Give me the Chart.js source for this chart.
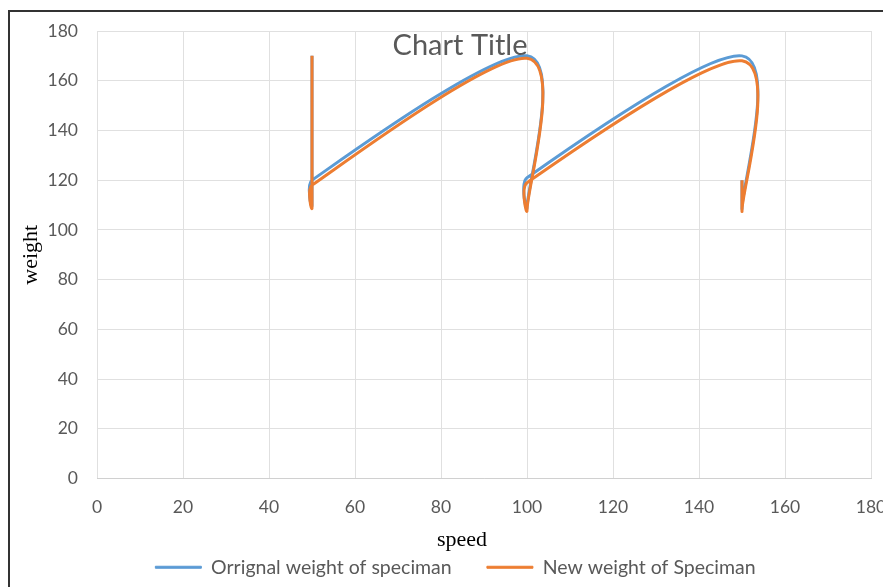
<!DOCTYPE html>
<html>
<head>
<meta charset="utf-8">
<script src="https://cdn.jsdelivr.net/npm/chart.js@4.4.1/dist/chart.umd.min.js"></script>
<style>
  html, body { margin: 0; padding: 0; background: #ffffff; }
  #wrap { position: relative; width: 883px; height: 587px; overflow: hidden; }
  #frame { position: absolute; left: 8px; top: 10px; width: 900px; height: 600px;
           border-left: 2px solid #333; border-top: 2px solid #333; box-sizing: border-box; }
  canvas { position: absolute; left: 0; top: 0; }
</style>
</head>
<body>
<div id="wrap">
  <div id="frame"></div>
  <canvas id="myChart" width="883" height="587"></canvas>
</div>
<script>
// speed (x) and weight (y)
const speedOriginal = [50, 50, 50, 100, 100, 100, 150, 150, 150];
const weightOriginal = [170, 110, 120, 170, 109, 121, 170, 109, 120];
const speedNew = [50, 50, 50, 100, 100, 100, 150, 150, 150];
const weightNew = [170, 109, 118, 169, 108, 119, 168, 108, 120];

const seriesNames = ['Orrignal weight of speciman', 'New weight of Speciman'];
const seriesColors = ['#5b9bd5', '#ed7d31'];

function toPoints(xs, ys) {
    return xs.map((x, i) => ({ x: x, y: ys[i] }));
}

// Excel-like smoothing: tangent = (next - prev) / 6, kept short on short segments
const excelSmooth = {
    id: 'excelSmooth',
    beforeDatasetsDraw(chart) {
        chart.data.datasets.forEach((ds, di) => {
            const meta = chart.getDatasetMeta(di);
            if (!meta.dataset) return;
            meta.dataset.updateControlPoints(chart.chartArea);
            const pts = meta.data;
            for (let i = 0; i < pts.length; i++) {
                const p = pts[i];
                const prev = pts[i - 1] || p;
                const next = pts[i + 1] || p;
                const tx = (next.x - prev.x) / 6;
                const ty = (next.y - prev.y) / 6;
                const tl = Math.hypot(tx, ty) || 1;
                const dPrev = Math.hypot(p.x - prev.x, p.y - prev.y);
                const dNext = Math.hypot(next.x - p.x, next.y - p.y);
                const l1 = Math.min(tl, 0.3 * dPrev) / tl;
                const l2 = Math.min(tl, 0.3 * dNext) / tl;
                p.cp1x = p.x - tx * l1;
                p.cp1y = p.y - ty * l1;
                p.cp2x = p.x + tx * l2;
                p.cp2y = p.y + ty * l2;
            }
        });
    }
};

// title sits inside the plot area like in the Excel picture
const titlePlugin = {
    id: 'floatTitle',
    afterDraw(chart) {
        const ctx = chart.ctx;
        ctx.save();
        ctx.font = '29px Lato';
        ctx.fillStyle = '#595959';
        ctx.textAlign = 'center';
        ctx.textBaseline = 'middle';
        ctx.fillText('Chart Title', 460, 46);
        ctx.restore();
    }
};

const ctx = document.getElementById('myChart').getContext('2d');
new Chart(ctx, {
    type: 'scatter',
    data: {
        datasets: [{
            label: seriesNames[0],
            data: toPoints(speedOriginal, weightOriginal),
            showLine: true,
            borderColor: seriesColors[0],
            backgroundColor: seriesColors[0],
            borderWidth: 3,
            tension: 0.4,
            pointRadius: 0,
            order: 1
        }, {
            label: seriesNames[1],
            data: toPoints(speedNew, weightNew),
            showLine: true,
            borderColor: seriesColors[1],
            backgroundColor: seriesColors[1],
            borderWidth: 3,
            tension: 0.4,
            pointRadius: 0,
            order: 0
        }]
    },
    options: {
        responsive: false,
        animation: false,
        layout: {
            padding: { top: 31, left: 40, right: 12, bottom: 0 }
        },
        scales: {
            x: {
                type: 'linear',
                min: 0,
                max: 180,
                ticks: {
                    stepSize: 20,
                    color: '#595959',
                    font: { family: 'Lato', size: 17.5 },
                    padding: 18
                },
                grid: { color: '#e0e0e0', drawTicks: false },
                border: { color: '#d0d0d0' },
                title: {
                    display: true,
                    // trailing spaces pull the centred word a little left, as in the picture
                    text: 'speed\u2003\u2003',
                    color: '#000000',
                    font: { family: 'Liberation Serif', size: 22 },
                    padding: { top: 0, bottom: -2 }
                },
                afterFit(scale) {
                    scale.paddingLeft = 0;
                    scale.paddingRight = 0;
                    scale.height = 73;
                }
            },
            y: {
                min: 0,
                max: 180,
                ticks: {
                    stepSize: 20,
                    color: '#595959',
                    font: { family: 'Lato', size: 17.5 },
                    padding: 19
                },
                grid: { color: '#e0e0e0', drawTicks: false },
                border: { display: false },
                title: {
                    display: true,
                    text: 'weight',
                    color: '#000000',
                    font: { family: 'Liberation Serif', size: 22 },
                    padding: { top: -22, bottom: 0 }
                },
                afterFit(scale) {
                    scale.width = 57;
                }
            }
        },
        plugins: {
            legend: {
                position: 'bottom',
                labels: {
                    color: '#595959',
                    font: { family: 'Lato', size: 19.5 },
                    boxWidth: 46,
                    boxHeight: 2,
                    padding: 6,
                    sort: (a, b) => a.datasetIndex - b.datasetIndex,
                    generateLabels(chart) {
                        const items = Chart.defaults.plugins.legend.labels.generateLabels(chart);
                        items.forEach(item => {
                            item.lineWidth = 1;
                            // trailing em spaces widen the gap between the two entries
                            if (item.datasetIndex === 0) item.text = item.text + '\u2003\u2003';
                        });
                        return items;
                    }
                }
            },
            tooltip: { enabled: false }
        }
    },
    plugins: [excelSmooth, titlePlugin]
});
</script>
</body>
</html>
